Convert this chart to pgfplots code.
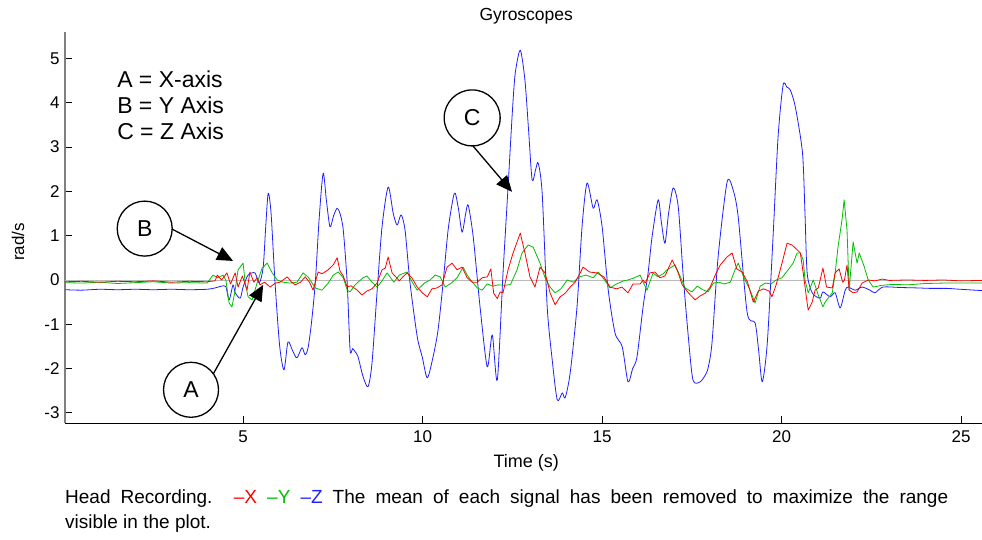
\documentclass[border=0pt]{standalone}
\usepackage{fontspec}
\setmainfont{Liberation Sans}
\usepackage{pgfplots}
\pgfplotsset{compat=1.18}
\usetikzlibrary{arrows.meta}

\definecolor{sigX}{RGB}{255,0,0}
\definecolor{sigY}{RGB}{0,190,0}
\definecolor{sigZ}{RGB}{30,30,255}

\begin{document}
\begin{tikzpicture}
\path[use as bounding box] (0,0) rectangle (982pt,539pt);
\begin{axis}[
  at={(65pt,116pt)}, anchor=south west,
  scale only axis, width=917pt, height=391pt,
  xmin=0.04, xmax=25.58, ymin=-3.23, ymax=5.6,
  axis x line*=bottom, axis y line*=left,
  x axis line style={black, line width=0.9pt, -},
  y axis line style={gray, line width=1.6pt, -},
  xtick={5,10,15,20,25}, ytick={-3,-2,-1,0,1,2,3,4,5},
  tick align=inside, major tick length=7pt,
  tick style={black, line width=0.8pt},
  /pgf/number format/assume math mode=true,
  tick label style={font=\fontsize{17}{17}\selectfont},
  yticklabel style={xshift=-2pt},
  xticklabel style={yshift=-4pt},
  title={Gyroscopes},
  title style={at={(axis description cs:0.503,1)}, anchor=base, yshift=5pt,
    font=\fontsize{17.5}{17.5}\selectfont},
  xlabel={Time (s)},
  xlabel style={at={(axis description cs:0.503,0)}, anchor=base, yshift=-44pt,
    font=\fontsize{18}{18}\selectfont},
  ylabel={rad/s},
  ylabel style={at={(axis description cs:-0.0513,0.463)}, anchor=center,
    font=\fontsize{17}{17}\selectfont},
  every axis plot/.append style={line width=0.8pt, line join=round},
]
% zero reference line
\addplot[gray!55, line width=0.6pt, forget plot] coordinates {(0.04,0) (25.58,0)};

% Z axis gyro
\addplot[sigZ, smooth, tension=0.45] coordinates {
(0.04,-0.22) (0.5,-0.23) (1.0,-0.21) (1.5,-0.22) (2.0,-0.21) (2.5,-0.22) (3.0,-0.21)
(3.5,-0.22) (4.0,-0.21) (4.22,-0.18) (4.40,-0.14) (4.52,-0.15) (4.61,-0.45) (4.72,-0.11)
(4.78,-0.29) (4.92,-0.41) (5.00,-0.16) (5.14,0.11) (5.33,0.16) (5.45,-0.07) (5.56,0.29)
(5.63,1.2) (5.70,1.96) (5.78,1.5) (5.89,-0.07) (6.02,-1.5) (6.14,-2.03) (6.25,-1.40)
(6.38,-1.6) (6.50,-1.76) (6.64,-1.53) (6.73,-1.69) (6.81,-1.53) (6.90,-1.0) (7.01,-0.07)
(7.12,1.4) (7.23,2.41) (7.32,1.8) (7.42,1.20) (7.52,1.45) (7.62,1.62) (7.70,1.50)
(7.79,1.13) (7.90,-0.07) (7.98,-1.58) (8.05,-1.55) (8.12,-1.62) (8.20,-1.73) (8.34,-2.18)
(8.48,-2.41) (8.59,-1.88) (8.73,-0.29) (8.87,1.20) (9.04,2.10) (9.18,1.51) (9.29,1.24)
(9.40,1.47) (9.51,1.13) (9.65,-0.07) (9.85,-1.28) (9.99,-1.74) (10.13,-2.21) (10.29,-1.74)
(10.43,-1.13) (10.57,-0.07) (10.71,1.13) (10.85,1.85) (10.91,1.96) (11.00,1.6) (11.10,1.08)
(11.20,1.5) (11.27,1.69) (11.41,0.97) (11.60,-0.61) (11.80,-1.96) (11.94,-1.24) (12.08,-2.26)
(12.24,0.16) (12.38,2.10) (12.50,3.8) (12.58,4.67) (12.72,5.19) (12.85,4.51) (12.95,3.4)
(13.05,2.26) (13.15,2.5) (13.22,2.64) (13.33,1.96) (13.47,-0.61) (13.61,-1.81) (13.75,-2.71)
(13.89,-2.55) (13.97,-2.66) (14.11,-2.10) (14.30,-0.61) (14.44,1.20) (14.58,2.19) (14.75,1.62)
(14.86,1.81) (15.00,1.20) (15.17,-0.23) (15.36,-1.20) (15.56,-1.51) (15.72,-2.30) (15.85,-2.0)
(15.97,-1.74) (16.14,-0.61) (16.28,0.16) (16.39,0.97) (16.56,1.81) (16.65,1.3) (16.75,0.83)
(16.85,1.5) (16.98,2.08) (17.12,1.65) (17.26,0.07) (17.40,-1.28) (17.53,-2.26) (17.73,-2.30)
(17.87,-2.15) (17.95,-1.99) (18.06,-1.42) (18.23,0.52) (18.48,2.21) (18.65,2.03) (18.79,1.42)
(19.04,-0.74) (19.26,-0.97) (19.36,-1.6) (19.46,-2.30) (19.60,-1.42) (19.76,0.97) (19.90,3.23)
(20.04,4.40) (20.15,4.35) (20.24,4.29) (20.38,3.91) (20.58,2.87) (20.65,1.5) (20.71,0.16)
(20.85,-0.29) (21.07,-0.41) (21.15,-0.27) (21.35,-0.38) (21.49,-0.29) (21.63,-0.63) (21.77,-0.23)
(21.85,-0.16) (22.05,-0.23) (22.24,-0.16) (22.46,-0.23) (22.60,-0.29) (22.82,-0.16) (23.30,-0.17)
(23.80,-0.18) (24.14,-0.19) (24.60,-0.19) (24.97,-0.21) (25.58,-0.24)
};

% Y axis gyro
\addplot[sigY] coordinates {
(0.04,-0.06) (0.5,-0.07) (1.0,-0.05) (1.5,-0.08) (2.0,-0.06) (2.5,-0.04) (3.0,-0.07)
(3.5,-0.06) (4.0,-0.07) (4.16,0.11) (4.30,0.05) (4.44,0.11) (4.52,0.0) (4.61,-0.52)
(4.69,-0.61) (4.78,-0.23) (4.86,0.23) (5.00,0.38) (5.06,-0.07) (5.14,-0.38) (5.25,-0.45)
(5.39,-0.07) (5.53,0.27) (5.67,0.38) (5.81,0.16) (5.95,0.0) (6.11,-0.05) (6.31,-0.07)
(6.50,-0.05) (6.67,0.16) (6.81,0.07) (7.01,-0.18) (7.20,-0.23) (7.37,-0.07) (7.51,0.11)
(7.65,0.18) (7.79,0.05) (7.90,-0.23) (7.98,-0.27) (8.12,-0.11) (8.34,0.05) (8.45,0.09)
(8.59,-0.05) (8.73,-0.16) (8.87,-0.02) (9.01,0.16) (9.20,-0.05) (9.35,0.11) (9.57,0.18)
(9.71,-0.05) (9.85,-0.23) (10.05,-0.07) (10.21,0.0) (10.35,0.11) (10.49,0.07) (10.63,-0.16)
(10.80,-0.07) (10.96,0.05) (11.13,0.29) (11.24,0.11) (11.32,0.02) (11.52,-0.18) (11.66,-0.23)
(11.80,-0.09) (11.96,-0.14) (12.10,-0.11) (12.30,-0.12) (12.45,-0.10) (12.63,0.23) (12.77,0.61)
(12.94,0.79) (13.08,0.74) (13.27,0.38) (13.41,0.05) (13.55,-0.16) (13.69,-0.29) (13.85,-0.20)
(14.03,0.0) (14.20,-0.05) (14.36,0.07) (14.55,0.11) (14.75,0.05) (14.89,0.18) (15.05,0.02)
(15.22,-0.18) (15.40,-0.09) (15.60,-0.02) (15.72,0.0) (15.90,0.05) (16.06,0.11) (16.14,-0.05)
(16.25,-0.23) (16.42,0.16) (16.55,0.07) (16.70,0.14) (16.81,0.23) (17.03,0.34) (17.17,0.09)
(17.31,-0.18) (17.50,-0.27) (17.65,-0.14) (17.80,-0.22) (17.95,-0.27) (18.10,-0.07) (18.25,-0.05)
(18.40,-0.09) (18.57,-0.05) (18.70,0.23) (18.79,0.38) (18.95,0.05) (19.12,-0.23) (19.26,-0.52)
(19.40,-0.14) (19.55,-0.07) (19.70,-0.09) (19.85,0.0) (20.01,0.05) (20.18,0.23) (20.32,0.38)
(20.43,0.61) (20.52,0.61) (20.60,0.45) (20.65,0.0) (20.74,-0.29) (20.88,0.0) (21.02,-0.34)
(21.15,-0.61) (21.21,-0.50) (21.41,-0.29) (21.49,0.16) (21.57,0.75) (21.68,1.35) (21.74,1.81)
(21.82,1.13) (21.88,-0.23) (21.99,0.86) (22.10,0.38) (22.16,0.61) (22.30,0.30) (22.41,0.0)
(22.55,-0.16) (22.80,-0.12) (23.10,-0.10) (23.50,-0.11) (24.00,-0.08) (24.50,-0.07)
(25.00,-0.07) (25.58,-0.07)
};

% X axis gyro
\addplot[sigX] coordinates {
(0.04,-0.04) (0.5,-0.03) (1.0,-0.05) (1.5,-0.03) (2.0,-0.04) (2.5,-0.02) (3.0,-0.05)
(3.5,-0.03) (4.0,-0.04) (4.22,-0.02) (4.28,0.11) (4.40,0.0) (4.55,0.16) (4.65,-0.09)
(4.78,0.16) (4.86,-0.16) (4.98,0.09) (5.11,-0.23) (5.19,0.18) (5.30,-0.05) (5.39,0.05)
(5.47,-0.11) (5.60,-0.05) (5.75,-0.16) (5.90,-0.07) (6.03,-0.05) (6.23,0.07) (6.35,-0.05)
(6.45,-0.11) (6.60,-0.05) (6.73,0.07) (6.85,-0.05) (6.95,-0.23) (7.09,0.18) (7.20,0.14)
(7.37,0.23) (7.51,0.34) (7.62,0.50) (7.70,0.20) (7.79,0.09) (7.90,-0.16) (8.00,-0.13)
(8.18,-0.23) (8.31,-0.34) (8.45,-0.25) (8.59,-0.20) (8.73,-0.07) (8.87,0.23) (8.96,0.27)
(9.04,0.52) (9.15,0.16) (9.23,0.09) (9.35,-0.02) (9.45,0.07) (9.57,0.16) (9.70,0.05)
(9.85,-0.16) (9.99,-0.29) (10.13,-0.38) (10.26,-0.20) (10.40,-0.18) (10.54,-0.11) (10.68,0.29)
(10.82,0.38) (10.96,0.23) (11.10,0.29) (11.24,0.05) (11.38,-0.05) (11.52,-0.05) (11.66,0.05)
(11.80,0.07) (11.90,0.25) (11.98,-0.30) (12.08,-0.42) (12.16,-0.27) (12.24,-0.29) (12.38,0.23)
(12.52,0.61) (12.72,1.06) (12.85,0.61) (12.99,0.07) (13.13,-0.16) (13.27,0.29) (13.41,0.16)
(13.55,-0.29) (13.69,-0.56) (13.83,-0.38) (13.97,-0.30) (14.11,-0.16) (14.25,-0.05) (14.39,0.16)
(14.47,0.29) (14.65,0.18) (14.85,0.16) (15.05,0.07) (15.22,-0.16) (15.40,-0.20) (15.55,-0.16)
(15.72,-0.29) (15.86,-0.09) (16.06,-0.09) (16.14,0.0) (16.20,-0.07) (16.33,0.16) (16.47,0.18)
(16.61,0.05) (16.75,0.09) (16.95,0.45) (17.10,0.20) (17.23,-0.11) (17.40,-0.29) (17.59,-0.45)
(17.73,-0.36) (17.87,-0.30) (18.01,-0.16) (18.15,0.11) (18.29,0.34) (18.48,0.52) (18.62,0.61)
(18.75,0.25) (18.90,0.18) (19.05,-0.05) (19.21,-0.50) (19.35,-0.25) (19.50,-0.20) (19.65,-0.25)
(19.73,-0.38) (19.85,-0.10) (20.01,0.38) (20.15,0.83) (20.29,0.79) (20.46,0.66) (20.52,0.61)
(20.60,0.16) (20.71,-0.52) (20.74,-0.68) (20.85,-0.50) (20.93,-0.23) (21.02,-0.18) (21.15,0.27)
(21.25,-0.16) (21.41,-0.18) (21.49,0.16) (21.60,0.25) (21.70,-0.05) (21.75,0.0) (21.82,0.34)
(21.88,-0.23) (21.99,-0.29) (22.10,-0.27) (22.24,-0.07) (22.41,0.0) (22.60,-0.02) (22.80,0.02)
(23.00,-0.01) (23.50,0.0) (24.00,-0.01) (24.50,0.0) (25.00,-0.02) (25.58,-0.01)
};

% key to the callouts
\node[anchor=north west, inner sep=0pt, align=left,
  font=\fontsize{23}{26}\selectfont] at (axis cs:1.49,4.72)
  {A = X-axis\\B = Y Axis\\C = Z Axis};

% callouts
\draw[line width=1.3pt] (axis cs:2.26,1.16) circle[radius=27.5pt];
\node[font=\fontsize{23}{23}\selectfont] at (axis cs:2.26,1.16) {B};
\draw[line width=1.3pt, -{Triangle[length=16pt,width=14pt]}]
  (axis cs:3.02,1.15) -- (axis cs:4.72,0.43);

\draw[line width=1.3pt] (axis cs:3.55,-2.48) circle[radius=27.5pt];
\node[font=\fontsize{23}{23}\selectfont] at (axis cs:3.55,-2.48) {A};
\draw[line width=1.3pt, -{Triangle[length=16pt,width=14pt]}]
  (axis cs:4.17,-2.12) -- (axis cs:5.56,-0.11);

\draw[line width=1.3pt] (axis cs:11.38,3.66) circle[radius=28pt];
\node[font=\fontsize{23}{23}\selectfont] at (axis cs:11.38,3.66) {C};
\draw[line width=1.3pt, -{Triangle[length=16pt,width=14pt]}]
  (axis cs:11.41,3.02) -- (axis cs:12.49,1.99);
\end{axis}

% caption, first line set full width
\node[anchor=base west, inner sep=0pt, font=\fontsize{19}{19}\selectfont] at (65pt,36pt)
  {\hbox to 883pt{Head Recording. \textcolor{sigX}{–X} \textcolor{sigY}{–Y} \textcolor{sigZ}{–Z} The mean of each signal has been removed to maximize the range}};
\node[anchor=base west, inner sep=0pt, font=\fontsize{19}{19}\selectfont] at (65pt,11pt)
  {visible in the plot.};
\end{tikzpicture}
\end{document}
